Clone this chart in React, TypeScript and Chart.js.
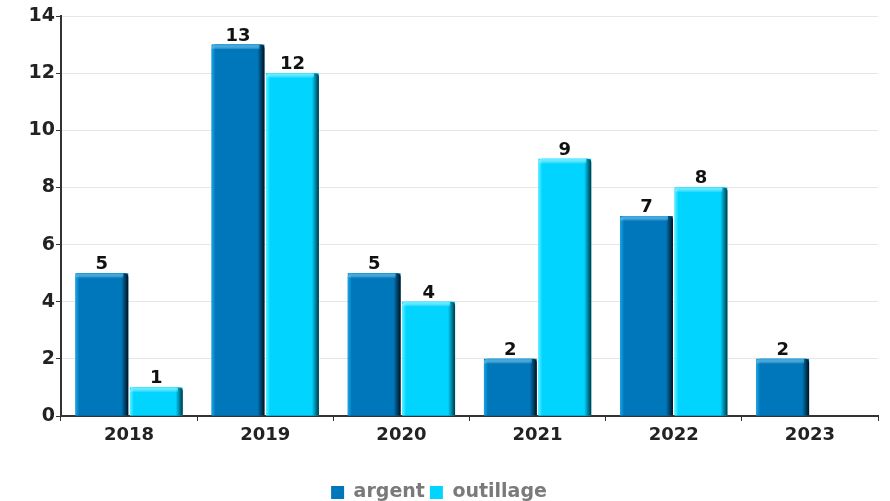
import React, { useEffect, useRef } from "react";
import { Chart, registerables } from "chart.js";

Chart.register(...registerables);

const categories = ["2018", "2019", "2020", "2021", "2022", "2023"];
const argentValues = [5, 13, 5, 2, 7, 2];
const outillageValues = [1, 12, 4, 9, 8, null];
const seriesNames = ["argent", "outillage"];

const FONT = "'DejaVu Sans', sans-serif";

const shades: Record<string, { light: string; base: string; dark: string }> = {
  argent: { light: "#1aa6e6", base: "#0077bb", dark: "#00111c" },
  outillage: { light: "#5cf0ff", base: "#00d4ff", dark: "#003844" },
};

const bar3d = {
  id: "bar3d",
  afterDatasetsDraw(chart: any) {
    const ctx = chart.ctx;
    chart.data.datasets.forEach((ds: any, di: number) => {
      const meta = chart.getDatasetMeta(di);
      const sh = shades[ds.label];
      meta.data.forEach((el: any, i: number) => {
        const v = ds.data[i];
        if (v === null || v === undefined) return;
        const { x, y, base, width } = el.getProps(["x", "y", "base", "width"], true);
        const left = x - width / 2;
        const right = x + width / 2;
        const r = 4;
        ctx.save();
        ctx.beginPath();
        ctx.moveTo(left, base);
        ctx.lineTo(left, y + r);
        ctx.quadraticCurveTo(left, y, left + r, y);
        ctx.lineTo(right - r, y);
        ctx.quadraticCurveTo(right, y, right, y + r);
        ctx.lineTo(right, base);
        ctx.closePath();
        const g = ctx.createLinearGradient(left, 0, right, 0);
        g.addColorStop(0, sh.light);
        g.addColorStop(Math.min(0.5, 4 / width), sh.base);
        g.addColorStop(Math.max(0.5, 1 - 7 / width), sh.base);
        g.addColorStop(1, sh.dark);
        ctx.fillStyle = g;
        ctx.fill();
        ctx.clip();
        const tg = ctx.createLinearGradient(0, y, 0, y + 5);
        tg.addColorStop(0, sh.light);
        tg.addColorStop(1, "rgba(255,255,255,0)");
        ctx.fillStyle = tg;
        ctx.fillRect(left, y, width - 5, 5);
        ctx.restore();

        ctx.save();
        ctx.fillStyle = "#111";
        ctx.font = `bold 18px ${FONT}`;
        ctx.textAlign = "center";
        ctx.textBaseline = "alphabetic";
        ctx.fillText(String(v), x, y - 4);
        ctx.restore();
      });
    });
  },
};

export default function App() {
  const ref = useRef<HTMLCanvasElement | null>(null);
  useEffect(() => {
    if (!ref.current) return;
    const chart = new Chart(ref.current, {
      type: "bar",
      data: {
        labels: categories,
        datasets: [
          {
            label: seriesNames[0],
            data: argentValues,
            backgroundColor: shades.argent.base,
            categoryPercentage: 0.8,
            barPercentage: 0.97,
          },
          {
            label: seriesNames[1],
            data: outillageValues as any,
            backgroundColor: shades.outillage.base,
            categoryPercentage: 0.8,
            barPercentage: 0.97,
          },
        ],
      },
      options: {
        animation: false,
        responsive: false,
        maintainAspectRatio: false,
        layout: { padding: { left: 0, right: 12, top: 16, bottom: 0 } },
        plugins: {
          tooltip: { enabled: false },
          legend: {
            position: "bottom",
            labels: {
              boxWidth: 13,
              boxHeight: 13,
              padding: 5,
              color: "#7a7a7a",
              font: { family: FONT, size: 19, weight: "bold" },
            },
          },
        },
        scales: {
          x: {
            afterFit: (s: any) => {
              s.height = 62;
            },
            grid: {
              display: true,
              drawOnChartArea: false,
              drawTicks: true,
              tickLength: 5,
              tickColor: "#333",
              offset: true,
            },
            border: { display: true, color: "#333", width: 2 },
            ticks: {
              color: "#222",
              padding: 4,
              font: { family: FONT, size: 18, weight: "bold" },
            },
          },
          y: {
            min: 0,
            max: 14,
            afterFit: (s: any) => {
              s.width = 61;
            },
            grid: {
              color: "#e6e6e6",
              drawTicks: true,
              tickLength: 5,
              tickColor: "#333",
            },
            border: { display: true, color: "#333", width: 2 },
            ticks: {
              stepSize: 2,
              color: "#222",
              padding: 1,
              font: { family: FONT, size: 19, weight: "bold" },
            },
          },
        },
      },
      plugins: [bar3d],
    });
    return () => chart.destroy();
  }, []);
  return (
    <div style={{ position: "absolute", left: 0, top: 0, width: 890, height: 501, overflow: "hidden", background: "#fff" }}>
      <canvas ref={ref} width={890} height={512} style={{ display: "block" }} />
    </div>
  );
}
